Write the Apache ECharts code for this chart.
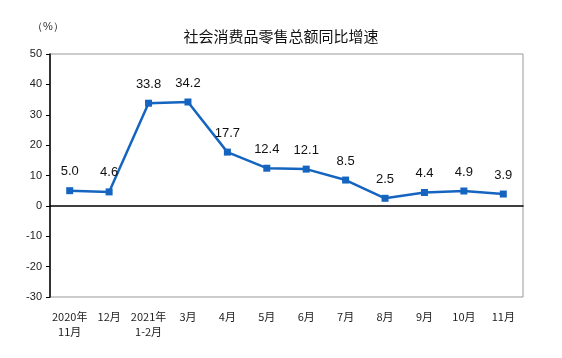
<!DOCTYPE html>
<html><head><meta charset="utf-8">
<script src="https://cdn.jsdelivr.net/npm/echarts@6/dist/echarts.min.js"></script>
<style>html,body{margin:0;padding:0;background:#fff}#c{width:562px;height:358px}</style>
</head><body><div id="c"></div>
<script>
var categories = ['2020年\n11月','12月','2021年\n1-2月','3月','4月','5月','6月','7月','8月','9月','10月','11月'];
var values = [5.0, 4.6, 33.8, 34.2, 17.7, 12.4, 12.1, 8.5, 2.5, 4.4, 4.9, 3.9];
var yMin = -30, yMax = 50, yStep = 10;
var font = '"Noto Sans CJK SC", sans-serif';
var chart = echarts.init(document.getElementById('c'));
chart.setOption({
  animation: false,
  title: {text: '社会消费品零售总额同比增速', left: 'center', top: 24,
    textStyle: {fontSize: 15, fontWeight: 'normal', color: '#111', fontFamily: font}},
  graphic: [{type: 'text', left: 32, top: 21, style: {text: '（%）', fontSize: 11, fill: '#333', font: '11px ' + font}}],
  grid: {left: 50, right: 39, top: 54, bottom: 61, show: true, borderColor: '#999', borderWidth: 1},
  xAxis: [{type: 'category', data: categories, boundaryGap: true,
      axisLine: {onZero: true, lineStyle: {color: '#000', width: 1.5}},
      axisTick: {inside: true, length: 5, lineStyle: {color: '#000'}},
      axisLabel: {show: false}},
    {type: 'category', data: categories, position: 'bottom', boundaryGap: true,
      axisLine: {show: false, onZero: false}, axisTick: {show: false},
      axisLabel: {interval: 0, fontSize: 11, color: '#222', fontFamily: font, margin: 12, lineHeight: 15}}],
  yAxis: {type: 'value', min: yMin, max: yMax, interval: yStep,
    axisLine: {show: true, lineStyle: {color: '#000', width: 1.5}},
    axisTick: {show: true, length: 4, lineStyle: {color: '#000'}},
    splitLine: {show: false},
    axisLabel: {fontSize: 11, color: '#222', fontFamily: 'Arial, "Liberation Sans", sans-serif', margin: 8}},
  series: [{type: 'line', data: values, xAxisIndex: 0,
    symbol: 'rect', symbolSize: 7,
    lineStyle: {color: '#1565c0', width: 2.5},
    itemStyle: {color: '#1565c0'},
    label: {show: true, position: 'top', distance: 9, fontSize: 13, color: '#111',
      fontFamily: 'Arial, "Liberation Sans", sans-serif',
      formatter: function(p){return p.value.toFixed(1);}}}]
});
</script></body></html>
